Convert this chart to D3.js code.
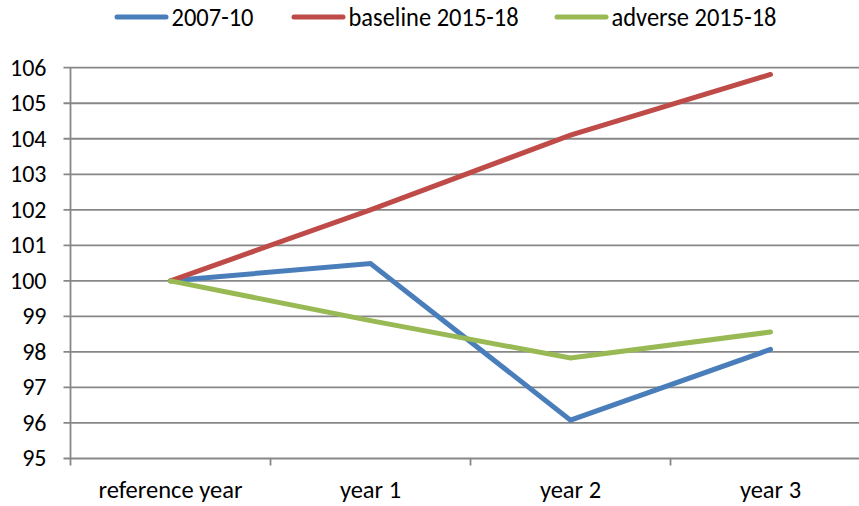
<!DOCTYPE html>
<html><head><meta charset="utf-8">
<script src="https://cdn.jsdelivr.net/npm/d3@7"></script>
<style>body{margin:0;background:#fff}svg{display:block}</style>
</head><body>
<svg id="c" width="859" height="506"></svg>
<script>
const categories = ["reference year", "year 1", "year 2", "year 3"];
const seriesNames = ["2007-10", "baseline 2015-18", "adverse 2015-18"];
const s2007 = [100, 100.49, 96.08, 98.07];
const sBaseline = [100, 102.0, 104.1, 105.81];
const sAdverse = [100, 98.88, 97.83, 98.56];
const yTicks = [95, 96, 97, 98, 99, 100, 101, 102, 103, 104, 105, 106];
const colors = ["#4A7EBB", "#BE4B48", "#98B954"];

(function () {
const svg = d3.select("#c");
const font = "Carlito, Calibri, 'Open Sans', sans-serif";
const pLeft = 70.5, pRight = 870.5, pTop = 67.7, pBottom = 458.5;

const x = d3.scaleBand().domain(categories).range([pLeft, pRight]);
const y = d3.scaleLinear().domain([95, 106]).range([pBottom, pTop]);

svg.append("g").selectAll("line").data(yTicks).join("line")
  .attr("x1", pLeft - 7).attr("x2", 859)
  .attr("y1", d => y(d)).attr("y2", d => y(d))
  .attr("stroke", "#878787").attr("stroke-width", 1.8);

svg.append("g").selectAll("text").data(yTicks).join("text")
  .attr("x", 46.5).attr("y", d => y(d)).attr("dy", "0.33em")
  .attr("text-anchor", "end").attr("font-family", font).attr("font-size", 24)
  .attr("fill", "#000").text(d => d);

svg.append("line").attr("x1", pLeft).attr("x2", pLeft).attr("y1", pTop).attr("y2", pBottom + 7)
  .attr("stroke", "#878787").attr("stroke-width", 1.8);

svg.append("g").selectAll("line").data(categories.slice(1)).join("line")
  .attr("x1", d => x(d)).attr("x2", d => x(d))
  .attr("y1", pBottom).attr("y2", pBottom + 7)
  .attr("stroke", "#878787").attr("stroke-width", 1.8);

svg.append("g").selectAll("text").data(categories).join("text")
  .attr("x", d => x(d) + x.bandwidth() / 2).attr("y", 498)
  .attr("text-anchor", "middle").attr("font-family", font).attr("font-size", 24.5)
  .attr("fill", "#000").text(d => d);

const allSeries = [s2007, sBaseline, sAdverse];
const line = d3.line().x((d, i) => x(categories[i]) + x.bandwidth() / 2).y(d => y(d));
svg.append("g").selectAll("path").data(allSeries).join("path")
  .attr("d", line).attr("fill", "none")
  .attr("stroke", (d, i) => colors[i]).attr("stroke-width", 5)
  .attr("stroke-linecap", "round").attr("stroke-linejoin", "miter");

const legX = [115, 292, 555];
const lg = svg.append("g").selectAll("g").data(seriesNames).join("g")
  .attr("transform", (d, i) => `translate(${legX[i]},17)`);
lg.append("line").attr("x1", 2).attr("x2", 51).attr("y1", 0).attr("y2", 0)
  .attr("stroke", (d, i) => colors[i]).attr("stroke-width", 5).attr("stroke-linecap", "round");
lg.append("text").attr("x", 56.5).attr("y", 0)
  .attr("transform", "scale(1,1.12)").attr("dy", "0.33em")
  .attr("font-family", font)
  .attr("font-size", 24.5).attr("fill", "#000").text(d => d);
})();
</script>
</body></html>
